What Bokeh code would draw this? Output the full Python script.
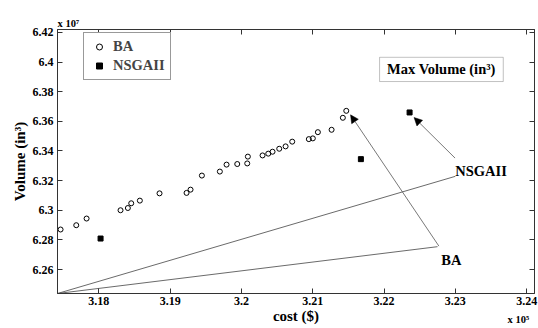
from bokeh.plotting import figure
from bokeh.models import (Range1d, FixedTicker, LinearAxis, Label, Arrow, NormalHead,
                          BoxAnnotation, Legend, LegendItem, Title)
from bokeh.embed import file_html
from bokeh.resources import INLINE

# ---- data (cost in $, volume in in^3) ----
ba_cost = [317463, 317683, 317828, 318304, 318407, 318454, 318575, 318851, 319230, 319286,
           319445, 319697, 319791, 319941, 320081, 320090, 320296, 320376, 320436, 320530,
           320619, 320712, 320945, 321001, 321072, 321264, 321422, 321470]
ba_volume = [62870000, 62899000, 62944000, 63000000, 63015000, 63047000, 63065000, 63114000,
             63117000, 63139000, 63234000, 63261000, 63308000, 63312000, 63316000, 63362000,
             63370000, 63382000, 63395000, 63415000, 63431000, 63463000, 63480000, 63485000,
             63527000, 63543000, 63624000, 63671000]
ns_cost = [318024, 321675, 322358]
ns_volume = [62809000, 63345000, 63660000]

x_ticks = [318000, 319000, 320000, 321000, 322000, 323000, 324000]
x_tick_labels = ["3.18", "3.19", "3.2", "3.21", "3.22", "3.23", "3.24"]
y_ticks = [62600000, 62800000, 63000000, 63200000, 63400000, 63600000, 63800000, 64000000, 64200000]
y_tick_labels = ["6.26", "6.28", "6.3", "6.32", "6.34", "6.36", "6.38", "6.4", "6.42"]

x_min, x_max = 317420, 324110
y_min, y_max = 62438000, 64220000

# annotation geometry (data coords)
fan_x1 = [323000, 322750]
fan_y1 = [63229000, 62754000]
arrow_start = [(322996, 63352000), (322769, 62758000)]
arrow_end = [(322421, 63626000), (321530, 63644000)]

FONT = "Liberation Serif"
AX = "#333333"

p = figure(width=538, height=328, x_range=Range1d(x_min, x_max), y_range=Range1d(y_min, y_max),
           output_backend="svg", toolbar_location=None,
           min_border_left=57, min_border_right=4, min_border_top=29, min_border_bottom=35)
p.grid.visible = False
p.outline_line_color = AX
p.background_fill_color = "white"
p.border_fill_color = "white"

def style_axis(ax, ticks, labels):
    ax.ticker = FixedTicker(ticks=ticks)
    ax.major_label_overrides = {t: l for t, l in zip(ticks, labels)}
    ax.major_tick_in = 5
    ax.major_tick_out = 0
    ax.minor_tick_line_color = None
    ax.axis_line_color = AX
    ax.major_tick_line_color = AX
    ax.major_label_text_font = FONT
    ax.major_label_text_font_style = "bold"
    ax.major_label_text_font_size = "12px"
    ax.major_label_text_color = "black"
    ax.axis_label_text_font = FONT
    ax.axis_label_text_font_style = "bold"
    ax.axis_label_text_font_size = "15px"
    ax.axis_label_text_color = "black"

style_axis(p.xaxis[0], x_ticks, x_tick_labels)
style_axis(p.yaxis[0], y_ticks, y_tick_labels)
p.xaxis[0].major_label_standoff = 3
p.xaxis[0].axis_label = "cost ($)"
p.xaxis[0].axis_label_standoff = 0
p.yaxis[0].major_label_standoff = 4
p.yaxis[0].axis_label = "Volume (in\u00b3)"
p.yaxis[0].axis_label_standoff = 2

for loc, ticks in (("right", y_ticks), ("above", x_ticks)):
    ax = LinearAxis(ticker=FixedTicker(ticks=ticks), major_label_text_font_size="0px",
                    major_label_text_color=None, major_label_text_alpha=0,
                    major_label_standoff=0, major_tick_in=5, major_tick_out=0,
                    minor_tick_line_color=None, axis_line_color=AX, major_tick_line_color=AX)
    p.add_layout(ax, loc)

# fan lines from corner
p.segment(x0=[x_min] * len(fan_x1), y0=[y_min] * len(fan_y1), x1=fan_x1, y1=fan_y1,
          line_color="#444444", line_width=0.8)

r_ba = p.scatter(ba_cost, ba_volume, marker="circle", size=5, fill_color=None,
                 line_color="black", line_width=1)
r_ns = p.scatter(ns_cost, ns_volume, marker="square", size=5, fill_color="black",
                 line_color="black")

for (xs, ys), (xe, ye) in zip(arrow_start, arrow_end):
    p.add_layout(Arrow(x_start=xs, y_start=ys, x_end=xe, y_end=ye, line_color="#555555",
                       line_width=0.8,
                       end=NormalHead(size=8, fill_color="black", line_color="black", line_width=0.5)))

lab_kw = dict(text_font=FONT, text_font_style="bold", text_font_size="14.5px", text_color="black")
p.add_layout(Label(x=322999, y=63262600, text="NSGAII", text_baseline="alphabetic", **lab_kw))
p.add_layout(Label(x=322802, y=62661300, text="BA", text_baseline="alphabetic", **lab_kw))

# title box
p.add_layout(BoxAnnotation(left=321937, right=323672, bottom=63868700, top=64032300,
                           fill_color="white", fill_alpha=1, line_color=AX, line_width=1))
p.add_layout(Label(x=322804, y=63950500, text="Max Volume (in\u00b3)", text_align="center",
                   text_baseline="middle", **lab_kw))

legend = Legend(items=[LegendItem(label="BA", renderers=[r_ba]),
                       LegendItem(label="NSGAII", renderers=[r_ns])],
                location=(26, 213), label_text_font=FONT, label_text_font_style="bold",
                label_text_font_size="14.5px", glyph_width=20, glyph_height=15, label_height=15,
                spacing=2, padding=5, margin=0, label_standoff=4, border_line_color=AX,
                border_line_width=1, background_fill_alpha=1)
p.add_layout(legend)

# exponent labels (outside the frame)
p.add_layout(Title(text="x 10\u2077", align="left", text_font=FONT, text_font_style="bold",
                   text_font_size="10.5px", text_color="black", standoff=2), "above")
p.add_layout(Label(x=450, y=-305, x_units="screen", y_units="screen", text="x 10\u2075",
                   text_font=FONT, text_font_style="bold", text_font_size="10.5px",
                   text_color="black", text_baseline="alphabetic"), "above")

open("out.html", "w").write(file_html(p, INLINE))
